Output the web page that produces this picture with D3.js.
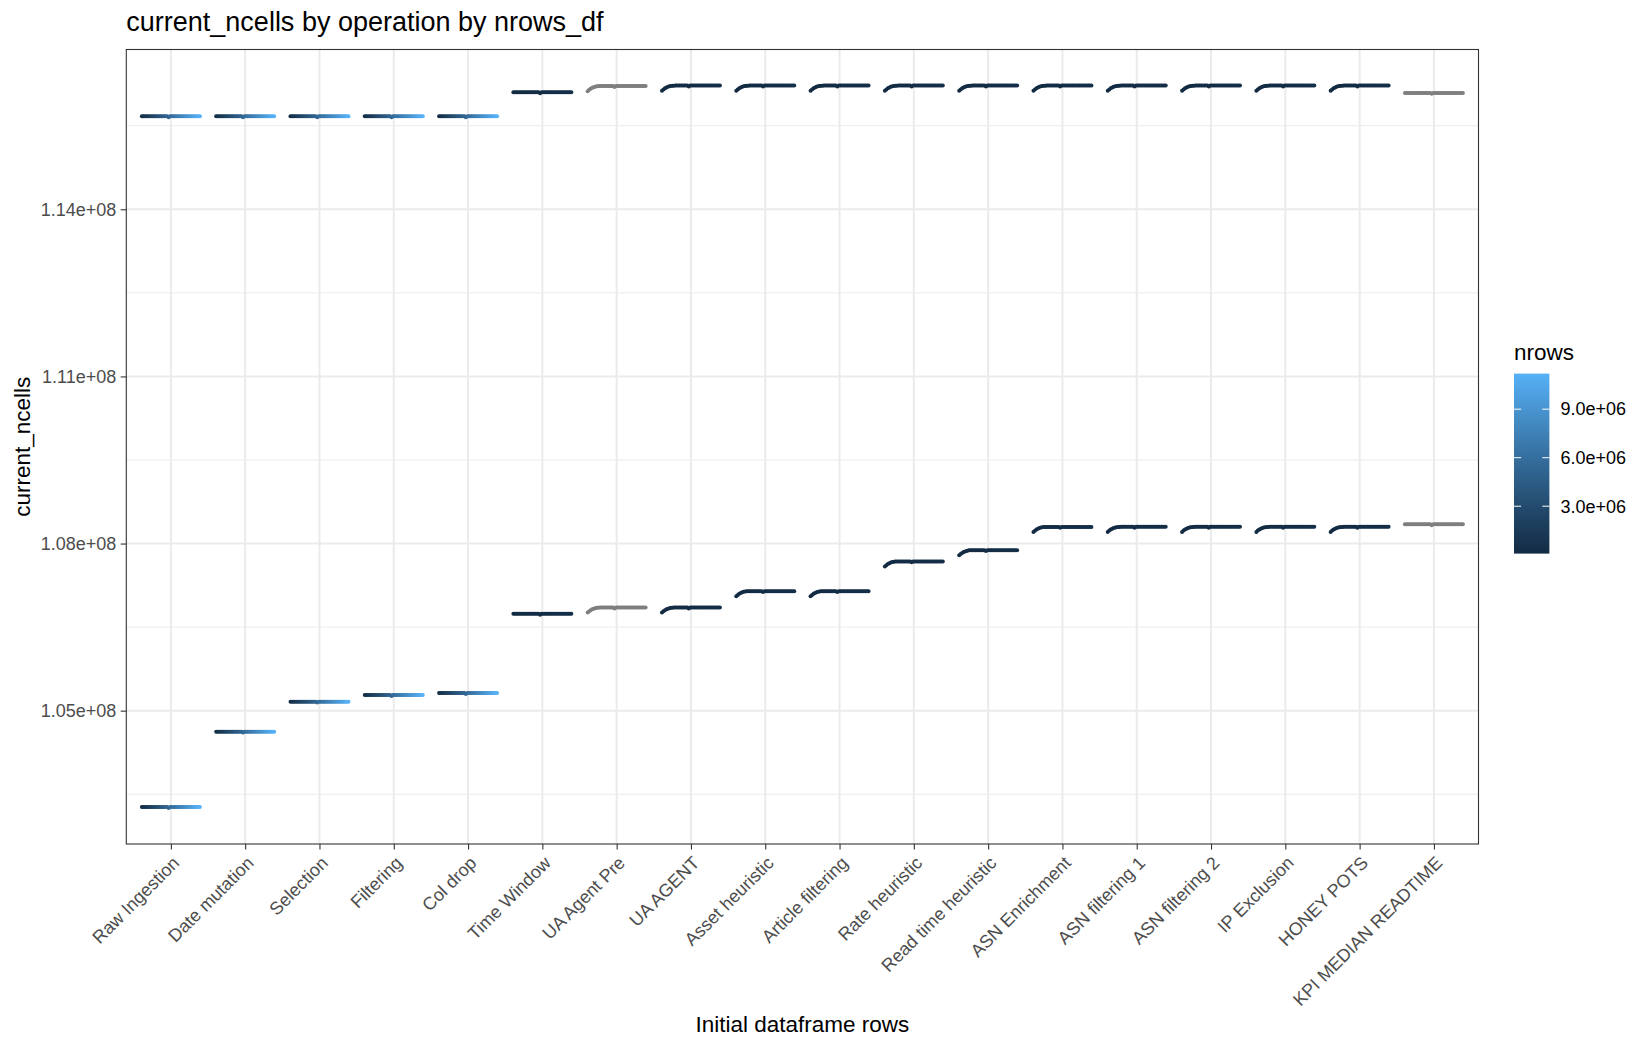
<!DOCTYPE html>
<html>
<head>
<meta charset="utf-8">
<script src="https://cdn.jsdelivr.net/npm/d3@7"></script>
<style>
  body { margin: 0; background: #fff; }
  svg { font-family: "Liberation Sans", Arial, sans-serif; }
</style>
</head>
<body>
<svg></svg>
<script>
const operations = [
  "Raw Ingestion", "Date mutation", "Selection", "Filtering", "Col drop",
  "Time Window", "UA Agent Pre", "UA AGENT", "Asset heuristic",
  "Article filtering", "Rate heuristic", "Read time heuristic",
  "ASN Enrichment", "ASN filtering 1", "ASN filtering 2", "IP Exclusion",
  "HONEY POTS", "KPI MEDIAN READTIME",
];

// initial dataframe sizes (one dodged point per size)
const nrowsDf = [
  280000, 560000, 840000, 1120000, 1400000, 1680000, 1960000, 2240000,
  2520000, 2800000, 3080000, 3360000, 3640000, 3920000, 4200000, 4480000,
  4760000, 5040000, 5320000, 5600000, 5880000, 6160000, 6440000, 6720000,
  7000000, 7280000, 7560000, 7840000, 8120000, 8400000, 8680000, 8960000,
  9240000, 9520000, 9800000, 10080000, 10360000, 10640000, 10920000, 11200000,
];

// rows left once the time window is applied
const rowsAfterWindow = [
  70000, 80000, 90000, 100000, 110000, 120000, 130000, 140000,
  150000, 160000, 170000, 180000, 190000, 200000, 210000, 220000,
  230000, 240000, 250000, 260000, 270000, 280000, 290000, 300000,
  310000, 320000, 330000, 340000, 350000, 360000, 370000, 380000,
  390000, 400000, 410000, 420000, 430000, 440000, 450000, 460000,
];

// which rows count colours each operation ("na" = missing)
const rowSource = [
  "df", "df", "df", "df", "df", "window", "na", "window", "window",
  "window", "window", "window", "window", "window", "window", "window",
  "window", "na",
];

const cellsUpper = [
  115670000, 115670000, 115670000, 115670000, 115670000, 116100000,
  116213000, 116220000, 116220000, 116220000, 116220000, 116220000,
  116220000, 116220000, 116220000, 116220000, 116220000, 116088000,
];

const cellsLower = [
  103271000, 104622000, 105161000, 105280000, 105316000, 106739000,
  106852000, 106852000, 107145000, 107145000, 107679000, 107880000,
  108299000, 108300000, 108300000, 108300000, 108300000, 108346000,
];

// smallest inputs sit a bit lower from "UA Agent Pre" to "HONEY POTS"
const hasDip = [
  false, false, false, false, false, false, true, true, true,
  true, true, true, true, true, true, true, true, false,
];

const dipProfile = [
  -92000, -68000, -48000, -33000, -21000, -12000, -6000, -2500, -800, 0,
  0, 0, 0, 0, 0, 0, 0, 0, 0, 0,
  0, 0, 0, 0, 0, 0, 0, 0, 0, 0,
  0, 0, 0, 0, 0, 0, 0, 0, 0, 0,
];

const notchProfile = [
  0, 0, 0, 0, 0, 0, 0, 0, 0, 0,
  0, 0, 0, 0, 0, 0, 0, 0, -16000, 0,
  0, 0, 0, 0, 0, 0, 0, 0, 0, 0,
  0, 0, 0, 0, 0, 0, 0, 0, 0, 0,
];

const yTicks = [105000000, 108000000, 111000000, 114000000];
const yMinorTicks = [103500000, 106500000, 109500000, 112500000, 115500000];
const legendTicks = [3000000, 6000000, 9000000];

const width = 1650;
const height = 1050;
const panel = { left: 126.3, right: 1478.5, top: 49.5, bottom: 844 };

const axisTextColor = "#4D4D4D";
const gridColor = "#EBEBEB";
const lowColor = "#132B43";
const highColor = "#56B1F7";
const naColor = "#7F7F7F";

let svg = d3.select("svg").attr("width", width).attr("height", height);
svg.append("rect").attr("width", width).attr("height", height).attr("fill", "#fff");

// Build the points: two lines per operation, one dot per input size
const points = [];
operations.forEach((op, k) => {
  [cellsUpper, cellsLower].forEach((levels) => {
    nrowsDf.forEach((df, i) => {
      let nrows = null;
      if (rowSource[k] === "df") nrows = df;
      else if (rowSource[k] === "window") nrows = rowsAfterWindow[i];
      points.push({
        op: op,
        idx: i,
        nrows: nrows,
        cells: levels[k] + notchProfile[i] + (hasDip[k] ? dipProfile[i] : 0),
      });
    });
  });
});

// Scales
const x = d3
  .scalePoint()
  .domain(operations)
  .range([panel.left, panel.right])
  .padding(0.6);

const dodgeWidth = 0.8;
const dodge = (i) =>
  ((i + 0.5) / nrowsDf.length - 0.5) * dodgeWidth * x.step();

const cellExtent = d3.extent(points, (d) => d.cells);
const pad = (cellExtent[1] - cellExtent[0]) * 0.05;
const y = d3
  .scaleLinear()
  .domain([cellExtent[0] - pad, cellExtent[1] + pad])
  .range([panel.bottom, panel.top]);

const nrowsExtent = d3.extent(points.filter((d) => d.nrows !== null), (d) => d.nrows);
const color = d3
  .scaleLinear()
  .domain(nrowsExtent)
  .range([lowColor, highColor])
  .interpolate(d3.interpolateLab);

// e.g. 1.14e+08
function sci(v, digits) {
  return d3.format(`.${digits}e`)(v).replace(/e([+-])(\d)$/, "e$10$2");
}

// Grid
const grid = svg.append("g");
grid
  .selectAll(".minor")
  .data(yMinorTicks)
  .enter()
  .append("line")
  .attr("x1", panel.left)
  .attr("x2", panel.right)
  .attr("y1", (d) => y(d))
  .attr("y2", (d) => y(d))
  .attr("stroke", gridColor)
  .attr("stroke-width", 1);

grid
  .selectAll(".major-y")
  .data(yTicks)
  .enter()
  .append("line")
  .attr("x1", panel.left)
  .attr("x2", panel.right)
  .attr("y1", (d) => y(d))
  .attr("y2", (d) => y(d))
  .attr("stroke", gridColor)
  .attr("stroke-width", 2);

grid
  .selectAll(".major-x")
  .data(operations)
  .enter()
  .append("line")
  .attr("x1", (d) => x(d))
  .attr("x2", (d) => x(d))
  .attr("y1", panel.top)
  .attr("y2", panel.bottom)
  .attr("stroke", gridColor)
  .attr("stroke-width", 2);

// Points
svg
  .append("g")
  .selectAll("circle")
  .data(points)
  .enter()
  .append("circle")
  .attr("cx", (d) => x(d.op) + dodge(d.idx))
  .attr("cy", (d) => y(d.cells))
  .attr("r", 2)
  .attr("fill", (d) => (d.nrows === null ? naColor : color(d.nrows)));

// Panel border
svg
  .append("rect")
  .attr("x", panel.left)
  .attr("y", panel.top)
  .attr("width", panel.right - panel.left)
  .attr("height", panel.bottom - panel.top)
  .attr("fill", "none")
  .attr("stroke", "#333333")
  .attr("stroke-width", 1.1);

// Y axis
const yAxis = svg
  .append("g")
  .attr("transform", `translate(${panel.left},0)`)
  .call(d3.axisLeft(y).tickValues(yTicks).tickFormat((d) => sci(d, 2)).tickSize(5.6).tickPadding(4.5));
yAxis.select(".domain").remove();
yAxis.selectAll(".tick line").attr("stroke", "#333333").attr("stroke-width", 1.1);
yAxis
  .selectAll(".tick text")
  .attr("fill", axisTextColor)
  .style("font-size", "18px")
  .style("font-family", "Liberation Sans, Arial, sans-serif");

// X axis
const xAxis = svg
  .append("g")
  .attr("transform", `translate(0,${panel.bottom})`)
  .call(d3.axisBottom(x).tickSize(5.6).tickFormat(""));
xAxis.select(".domain").remove();
xAxis.selectAll(".tick line").attr("stroke", "#333333").attr("stroke-width", 1.1);

svg
  .append("g")
  .selectAll("text")
  .data(operations)
  .enter()
  .append("text")
  .attr("transform", (d) => `translate(${x(d)},${panel.bottom + 10.5}) rotate(-45)`)
  .attr("text-anchor", "end")
  .attr("dy", "0.75em")
  .attr("fill", axisTextColor)
  .style("font-size", "18px")
  .text((d) => d);

// Titles
svg
  .append("text")
  .attr("x", panel.left)
  .attr("y", 31)
  .style("font-size", "27px")
  .text("current_ncells by operation by nrows_df");

svg
  .append("text")
  .attr("x", (panel.left + panel.right) / 2)
  .attr("y", 1032)
  .attr("text-anchor", "middle")
  .style("font-size", "22.5px")
  .text("Initial dataframe rows");

svg
  .append("text")
  .attr("transform", `translate(30,${(panel.top + panel.bottom) / 2}) rotate(-90)`)
  .attr("text-anchor", "middle")
  .style("font-size", "22.5px")
  .text("current_ncells");

// Legend colourbar
const bar = { x: 1514, y: 373.6, w: 35.4, h: 180 };
const legend = svg.append("g");

legend
  .append("text")
  .attr("x", bar.x)
  .attr("y", 360)
  .style("font-size", "22.5px")
  .text("nrows");

const grad = svg
  .append("defs")
  .append("linearGradient")
  .attr("id", "nrows-grad")
  .attr("x1", 0)
  .attr("y1", 1)
  .attr("x2", 0)
  .attr("y2", 0);

grad
  .selectAll("stop")
  .data(d3.range(0, 1.0001, 0.05))
  .enter()
  .append("stop")
  .attr("offset", (t) => t)
  .attr("stop-color", (t) => d3.interpolateLab(lowColor, highColor)(t));

legend
  .append("rect")
  .attr("x", bar.x)
  .attr("y", bar.y)
  .attr("width", bar.w)
  .attr("height", bar.h)
  .attr("fill", "url(#nrows-grad)");

const legendY = d3
  .scaleLinear()
  .domain(nrowsExtent)
  .range([bar.y + bar.h, bar.y]);

const tickLen = bar.w / 5;
legendTicks.forEach((v) => {
  const ty = legendY(v);
  legend
    .append("line")
    .attr("x1", bar.x)
    .attr("x2", bar.x + tickLen)
    .attr("y1", ty)
    .attr("y2", ty)
    .attr("stroke", "#fff")
    .attr("stroke-width", 1);
  legend
    .append("line")
    .attr("x1", bar.x + bar.w - tickLen)
    .attr("x2", bar.x + bar.w)
    .attr("y1", ty)
    .attr("y2", ty)
    .attr("stroke", "#fff")
    .attr("stroke-width", 1);
  legend
    .append("text")
    .attr("x", bar.x + bar.w + 11)
    .attr("y", ty)
    .attr("dy", "0.35em")
    .style("font-size", "18px")
    .text(sci(v, 1));
});
</script>
</body>
</html>
